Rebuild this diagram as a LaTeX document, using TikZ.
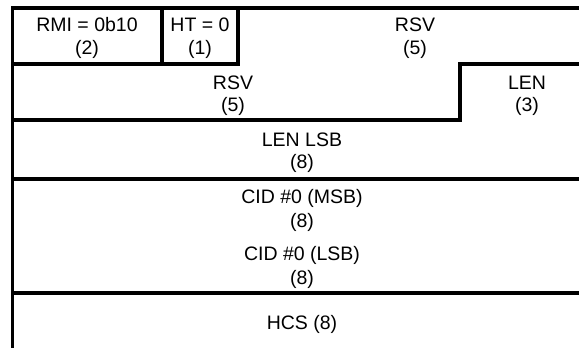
\documentclass[tikz,border=0pt]{standalone}
\usepackage{fontspec}
\setmainfont{Liberation Sans}
\begin{document}
\begin{tikzpicture}[x=1pt,y=-1pt,
  rule/.style={line width=3.5pt,line cap=rect,black},
  lbl/.style={inner sep=0pt,font=\fontsize{19.5}{23}\selectfont,text=black}]
\useasboundingbox (0,0) rectangle (579,348);
% outline
\draw[rule] (12.5,348) -- (12.5,8) -- (579,8);
\draw[rule] (12.5,64) -- (238,64) -- (238,8);
\draw[rule] (162,8) -- (162,64);
\draw[rule] (12.5,120) -- (460,120) -- (460,64) -- (579,64);
\draw[rule] (12.5,179) -- (579,179);
\draw[rule] (12.5,293) -- (579,293);
% labels
\node[lbl] (rmi) at (87,25) {RMI = 0b10};
\node[lbl] (rmib) at (87,49) {(2)};
\node[lbl] (ht) at (200,25) {HT = 0};
\node[lbl] (htb) at (200,49) {(1)};
\node[lbl] (rsv1) at (415,25) {RSV};
\node[lbl] (rsv1b) at (415,49) {(5)};
\node[lbl] (rsv2) at (233,83) {RSV};
\node[lbl] (rsv2b) at (233,106) {(5)};
\node[lbl] (len) at (527,83) {LEN};
\node[lbl] (lenb) at (527,106) {(3)};
\node[lbl] (lenlsb) at (302,140) {LEN LSB};
\node[lbl] (lenlsbb) at (302,163) {(8)};
\node[lbl] (cidm) at (302,198) {CID \#0 (MSB)};
\node[lbl] (cidmb) at (302,222) {(8)};
\node[lbl] (cidl) at (302,255) {CID \#0 (LSB)};
\node[lbl] (cidlb) at (302,279) {(8)};
\node[lbl] (hcs) at (302,324) {HCS (8)};
\end{tikzpicture}
\end{document}
